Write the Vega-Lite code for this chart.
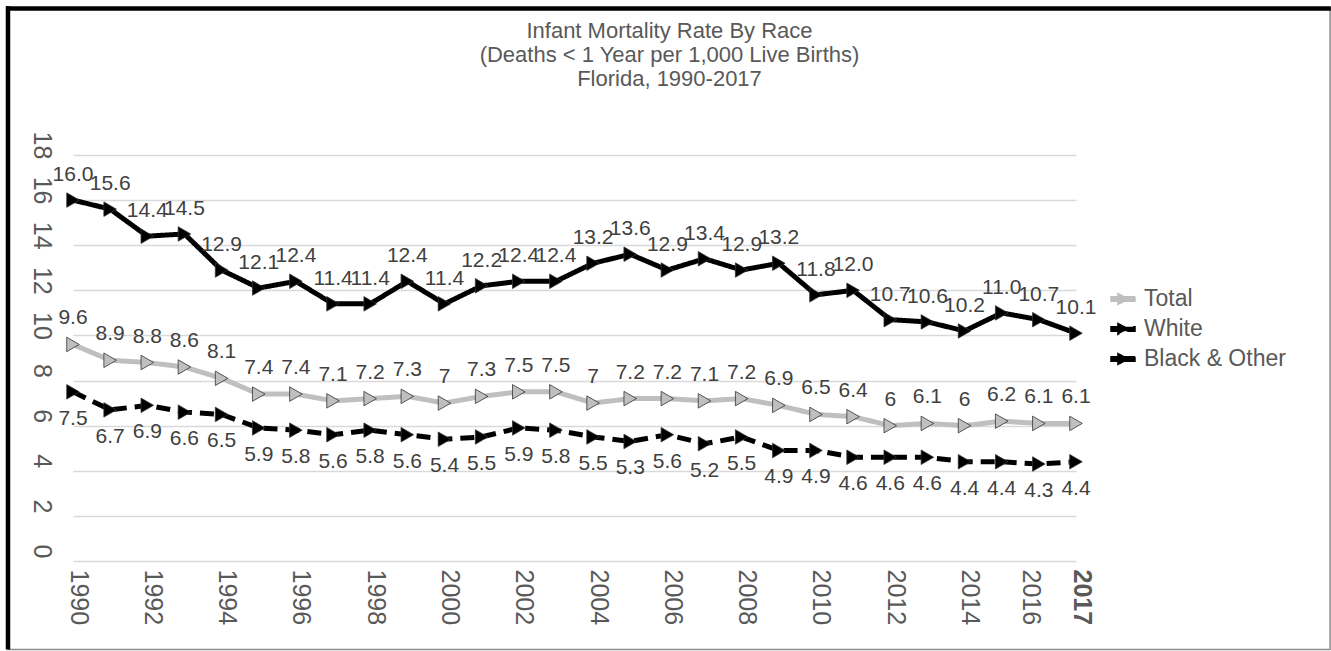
{
  "$schema": "https://vega.github.io/schema/vega-lite/v6.json",
  "autosize": {"type": "none"},
  "padding": {"left": 73, "top": 155, "right": 255, "bottom": 90},
  "width": 1003,
  "height": 406,
  "background": "white",
  "config": {
    "view": {"stroke": null},
    "font": "Liberation Sans"
  },
  "title": {
    "text": ["Infant Mortality Rate By Race", "(Deaths < 1 Year per 1,000 Live Births)", "Florida, 1990-2017"],
    "font": "Liberation Sans",
    "fontSize": 22,
    "fontWeight": "normal",
    "color": "#595959",
    "anchor": "middle",
    "frame": "group",
    "dx": 95,
    "lineHeight": 24,
    "offset": -87
  },
  "datasets": {
    "rows": [
      {"year": 1990, "series": "Total", "rate": 9.6}, {"year": 1990, "series": "White", "rate": 7.5}, {"year": 1990, "series": "Black & Other", "rate": 16.0},
      {"year": 1991, "series": "Total", "rate": 8.9}, {"year": 1991, "series": "White", "rate": 6.7}, {"year": 1991, "series": "Black & Other", "rate": 15.6},
      {"year": 1992, "series": "Total", "rate": 8.8}, {"year": 1992, "series": "White", "rate": 6.9}, {"year": 1992, "series": "Black & Other", "rate": 14.4},
      {"year": 1993, "series": "Total", "rate": 8.6}, {"year": 1993, "series": "White", "rate": 6.6}, {"year": 1993, "series": "Black & Other", "rate": 14.5},
      {"year": 1994, "series": "Total", "rate": 8.1}, {"year": 1994, "series": "White", "rate": 6.5}, {"year": 1994, "series": "Black & Other", "rate": 12.9},
      {"year": 1995, "series": "Total", "rate": 7.4}, {"year": 1995, "series": "White", "rate": 5.9}, {"year": 1995, "series": "Black & Other", "rate": 12.1},
      {"year": 1996, "series": "Total", "rate": 7.4}, {"year": 1996, "series": "White", "rate": 5.8}, {"year": 1996, "series": "Black & Other", "rate": 12.4},
      {"year": 1997, "series": "Total", "rate": 7.1}, {"year": 1997, "series": "White", "rate": 5.6}, {"year": 1997, "series": "Black & Other", "rate": 11.4},
      {"year": 1998, "series": "Total", "rate": 7.2}, {"year": 1998, "series": "White", "rate": 5.8}, {"year": 1998, "series": "Black & Other", "rate": 11.4},
      {"year": 1999, "series": "Total", "rate": 7.3}, {"year": 1999, "series": "White", "rate": 5.6}, {"year": 1999, "series": "Black & Other", "rate": 12.4},
      {"year": 2000, "series": "Total", "rate": 7.0}, {"year": 2000, "series": "White", "rate": 5.4}, {"year": 2000, "series": "Black & Other", "rate": 11.4},
      {"year": 2001, "series": "Total", "rate": 7.3}, {"year": 2001, "series": "White", "rate": 5.5}, {"year": 2001, "series": "Black & Other", "rate": 12.2},
      {"year": 2002, "series": "Total", "rate": 7.5}, {"year": 2002, "series": "White", "rate": 5.9}, {"year": 2002, "series": "Black & Other", "rate": 12.4},
      {"year": 2003, "series": "Total", "rate": 7.5}, {"year": 2003, "series": "White", "rate": 5.8}, {"year": 2003, "series": "Black & Other", "rate": 12.4},
      {"year": 2004, "series": "Total", "rate": 7.0}, {"year": 2004, "series": "White", "rate": 5.5}, {"year": 2004, "series": "Black & Other", "rate": 13.2},
      {"year": 2005, "series": "Total", "rate": 7.2}, {"year": 2005, "series": "White", "rate": 5.3}, {"year": 2005, "series": "Black & Other", "rate": 13.6},
      {"year": 2006, "series": "Total", "rate": 7.2}, {"year": 2006, "series": "White", "rate": 5.6}, {"year": 2006, "series": "Black & Other", "rate": 12.9},
      {"year": 2007, "series": "Total", "rate": 7.1}, {"year": 2007, "series": "White", "rate": 5.2}, {"year": 2007, "series": "Black & Other", "rate": 13.4},
      {"year": 2008, "series": "Total", "rate": 7.2}, {"year": 2008, "series": "White", "rate": 5.5}, {"year": 2008, "series": "Black & Other", "rate": 12.9},
      {"year": 2009, "series": "Total", "rate": 6.9}, {"year": 2009, "series": "White", "rate": 4.9}, {"year": 2009, "series": "Black & Other", "rate": 13.2},
      {"year": 2010, "series": "Total", "rate": 6.5}, {"year": 2010, "series": "White", "rate": 4.9}, {"year": 2010, "series": "Black & Other", "rate": 11.8},
      {"year": 2011, "series": "Total", "rate": 6.4}, {"year": 2011, "series": "White", "rate": 4.6}, {"year": 2011, "series": "Black & Other", "rate": 12.0},
      {"year": 2012, "series": "Total", "rate": 6.0}, {"year": 2012, "series": "White", "rate": 4.6}, {"year": 2012, "series": "Black & Other", "rate": 10.7},
      {"year": 2013, "series": "Total", "rate": 6.1}, {"year": 2013, "series": "White", "rate": 4.6}, {"year": 2013, "series": "Black & Other", "rate": 10.6},
      {"year": 2014, "series": "Total", "rate": 6.0}, {"year": 2014, "series": "White", "rate": 4.4}, {"year": 2014, "series": "Black & Other", "rate": 10.2},
      {"year": 2015, "series": "Total", "rate": 6.2}, {"year": 2015, "series": "White", "rate": 4.4}, {"year": 2015, "series": "Black & Other", "rate": 11.0},
      {"year": 2016, "series": "Total", "rate": 6.1}, {"year": 2016, "series": "White", "rate": 4.3}, {"year": 2016, "series": "Black & Other", "rate": 10.7},
      {"year": 2017, "series": "Total", "rate": 6.1}, {"year": 2017, "series": "White", "rate": 4.4}, {"year": 2017, "series": "Black & Other", "rate": 10.1}
    ]
  },
  "layer": [
    {
      "data": {"values": [{"frame": "box"}]},
      "mark": {"type": "rect", "fill": null, "stroke": "#8c8c8c", "strokeWidth": 1.5, "clip": false},
      "encoding": {
        "x": {"datum": 1988.25, "type": "quantitative"},
        "x2": {"datum": 2023.84},
        "y": {"datum": 24.5, "type": "quantitative"},
        "y2": {"datum": -3.92}
      }
    },
    {
      "data": {"values": [{"frame": "top"}]},
      "mark": {"type": "rule", "color": "#000000", "strokeWidth": 4.5, "clip": false},
      "encoding": {
        "x": {"datum": 1988.2, "type": "quantitative"},
        "x2": {"datum": 2023.86},
        "y": {"datum": 24.5, "type": "quantitative"}
      }
    },
    {
      "data": {"values": [{"frame": "left"}]},
      "mark": {"type": "rule", "color": "#000000", "strokeWidth": 4.5, "clip": false},
      "encoding": {
        "x": {"datum": 1988.25, "type": "quantitative"},
        "y": {"datum": 24.6, "type": "quantitative"},
        "y2": {"datum": -3.92}
      }
    },
    {
      "data": {"name": "rows"},
      "encoding": {
        "x": {
          "field": "year",
          "type": "quantitative",
          "scale": {"domain": [1990, 2017], "nice": false, "zero": false},
          "axis": {
            "title": null,
            "values": [1990, 1992, 1994, 1996, 1998, 2000, 2002, 2004, 2006, 2008, 2010, 2012, 2014, 2016, 2017],
            "format": "d",
            "labelAngle": 90,
            "labelAlign": "left",
            "labelBaseline": "middle",
            "grid": false,
            "ticks": false,
            "domain": false,
            "labelFont": "Liberation Sans",
            "labelFontSize": 25,
            "labelColor": "#595959",
            "labelPadding": 8,
            "labelFlush": false,
            "labelOverlap": false,
            "labelOffset": {"condition": {"test": "datum.value == 2016", "value": -8}, "value": 5},
            "labelFontWeight": {"condition": {"test": "datum.value == 2017", "value": "bold"}, "value": "normal"}
          }
        },
        "y": {
          "field": "rate",
          "type": "quantitative",
          "scale": {"domain": [0, 18], "nice": false},
          "axis": {
            "title": null,
            "values": [0, 2, 4, 6, 8, 10, 12, 14, 16, 18],
            "labelAngle": 90,
            "labelAlign": "center",
            "labelBaseline": "top",
            "labelOffset": -10,
            "domain": false,
            "ticks": false,
            "grid": true,
            "gridColor": "#d9d9d9",
            "gridWidth": 1.5,
            "labelFont": "Liberation Sans",
            "labelFontSize": 25,
            "labelColor": "#595959",
            "labelPadding": 20,
            "labelFlush": false,
            "labelOverlap": false
          }
        }
      },
      "layer": [
        {
          "mark": {"type": "line", "strokeWidth": 5},
          "encoding": {
            "color": {
              "field": "series",
              "type": "nominal",
              "scale": {"domain": ["Total", "White", "Black & Other"], "range": ["#bfbfbf", "#000000", "#000000"]},
              "legend": {
                "title": null,
                "orient": "none",
                "legendX": 1037,
                "legendY": 131,
                "padding": 0,
                "symbolType": "M-1,-0.18L1,-0.18L1,0.18L-1,0.18Z M-0.42,-0.45L0.45,0L-0.42,0.45Z",
                "symbolSize": 576,
                "rowPadding": 5,
                "labelFont": "Liberation Sans",
                "labelFontSize": 23,
                "labelColor": "#595959",
                "labelOffset": 8,
                "encoding": {
                  "symbols": {
                    "update": {
                      "fill": {"scale": "color", "field": "value"},
                      "stroke": {"value": "#404040"},
                      "strokeWidth": {"value": 0.6},
                      "strokeDash": {"value": [1, 0]},
                      "opacity": {"value": 1}
                    }
                  }
                }
              }
            },
            "strokeDash": {
              "field": "series",
              "type": "nominal",
              "scale": {"domain": ["Total", "White", "Black & Other"], "range": [[1, 0], [14, 8], [1, 0]]},
              "legend": null
            },
            "order": {"field": "year"}
          }
        },
        {
          "mark": {"type": "point", "shape": "triangle-right", "filled": true, "opacity": 1, "size": 210, "stroke": "#333333", "strokeWidth": 0.8},
          "encoding": {
            "color": {"field": "series", "type": "nominal", "legend": null}
          }
        },
        {
          "transform": [{"filter": "datum.series == 'Black & Other'"}],
          "mark": {"type": "text", "dy": -25, "font": "Liberation Sans", "fontSize": 21, "color": "#404040"},
          "encoding": {"text": {"field": "rate", "type": "quantitative", "format": ".1f"}}
        },
        {
          "transform": [{"filter": "datum.series == 'Total'"}],
          "mark": {"type": "text", "dy": -26, "font": "Liberation Sans", "fontSize": 21, "color": "#404040"},
          "encoding": {"text": {"field": "rate", "type": "quantitative"}}
        },
        {
          "transform": [{"filter": "datum.series == 'White'"}],
          "mark": {"type": "text", "dy": 27, "font": "Liberation Sans", "fontSize": 21, "color": "#404040"},
          "encoding": {"text": {"field": "rate", "type": "quantitative"}}
        }
      ]
    }
  ]
}
